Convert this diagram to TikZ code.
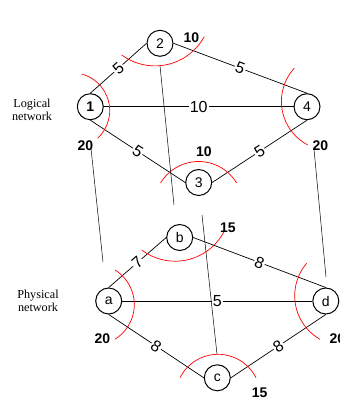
\documentclass[tikz,border=0pt]{standalone}
\usepackage{fontspec}
\setmainfont{Liberation Serif}
\setsansfont{Liberation Sans}
\usetikzlibrary{positioning}
\tikzset{
  % network node
  netnode/.style={
    circle, draw, line width=1pt,
    minimum size=26pt, inner sep=0pt,
    font=\sffamily\fontsize{14}{14}\selectfont
  },
  % link between two nodes
  link/.style={draw, line width=0.7pt},
  % link weight
  elabel/.style={fill=white, inner sep=1pt, sloped,
    font=\sffamily\fontsize{16}{16}\selectfont},
  % capacity value
  caplabel/.style={font=\sffamily\bfseries\fontsize{14}{14}\selectfont},
  % red cut arc
  cutarc/.style={red, line width=0.7pt},
  % logical to physical mapping
  mapline/.style={line width=0.5pt},
  % layer caption
  layer/.style={align=center, font=\fontsize{12.2}{13}\selectfont},
}

\begin{document}
\begin{tikzpicture}[x=1pt, y=-1pt]

  \clip (0,0) rectangle (340,408);

  %% Logical network
  \node[netnode] (n1) at (90.3,106.7) {\textbf{1}};
  \node[netnode] (n2) at (160,43.3)   {2};
  \node[netnode] (n3) at (198.7,182.5) {3};
  \node[netnode] (n4) at (307,106.7)  {4};

  \node[layer] (logcap) at (32,110) {Logical\\network};

  %% Physical network
  \node[netnode] (pa) at (108.7,301)   {a};
  \node[netnode] (pb) at (179.7,237.5) {b};
  \node[netnode] (pc) at (217.3,377.8) {c};
  \node[netnode] (pd) at (325.8,301)   {d};

  \node[layer] (phycap) at (38,300.5) {Physical\\network};

  %% Links
  \draw[link] (n1.north) -- node[elabel]{5}  (n2.west);
  \draw[link] (n2.east)  -- node[elabel]{5}  (n4.north);
  \draw[link] (n1.east)  -- node[elabel]{10} (n4.west);
  \draw[link] (n1.south) -- node[elabel]{5}  (n3.west);
  \draw[link] (n3.east)  -- node[elabel]{5}  (n4.south);

  \draw[link] (pa.north) -- node[elabel]{7} (pb.west);
  \draw[link] (pb.east)  -- node[elabel]{8} (pd.north);
  \draw[link] (pa.east)  -- node[elabel]{5} (pd.west);
  \draw[link] (pa.south) -- node[elabel]{8} (pc.west);
  \draw[link] (pc.east)  -- node[elabel]{8} (pd.south);

  %% Cut arcs
  \draw[cutarc] (71.8,110.6) ++(-74.9:37.9) arc[start angle=-74.9, end angle=46.9, radius=37.9];
  \draw[cutarc] (155.0,9.7) ++(126.3:56.2) arc[start angle=126.3, end angle=28.7, radius=56.2];
  \draw[cutarc] (330.6,101.4) ++(222.4:49.2) arc[start angle=222.4, end angle=117.7, radius=49.2];
  \draw[cutarc] (198.6,206.0) ++(211.1:44.5) arc[start angle=211.1, end angle=328.9, radius=44.5];
  \draw[cutarc] (93.6,304.6) ++(-58.3:40.7) arc[start angle=-58.3, end angle=58.3, radius=40.7];
  \draw[cutarc] (175.1,205.9) ++(127.1:55.3) arc[start angle=127.1, end angle=27.8, radius=55.3];
  \draw[cutarc] (344.8,295.8) ++(220.5:50.1) arc[start angle=220.5, end angle=119.7, radius=50.1];
  \draw[cutarc] (218,396.9) ++(206.8:42.6) arc[start angle=206.8, end angle=333.2, radius=42.6];

  %% Capacities
  \node[caplabel] (cap2) at (191.3,37.2)  {10};
  \node[caplabel] (cap1) at (85.3,145.7)  {20};
  \node[caplabel] (cap3) at (204,151.3)   {10};
  \node[caplabel] (cap4) at (320.3,145.7) {20};
  \node[caplabel] (capb) at (228,227.5)   {15};
  \node[caplabel] (capa) at (102.5,338.7) {20};
  \node[caplabel] (capd) at (337.3,338.7) {20};
  \node[caplabel] (capc) at (259.7,392.5) {15};

  %% Mapping
  \coordinate (m1top) at (91,148.3);
  \coordinate (m1bot) at (103,262);
  \coordinate (m2top) at (160,65.7);
  \coordinate (m2bot) at (174,205);
  \coordinate (m3top) at (202,215);
  \coordinate (m3bot) at (217,354.3);
  \coordinate (m4top) at (314,149);
  \coordinate (m4bot) at (326,277);

  \draw[mapline] (m1top) -- (m1bot);
  \draw[mapline] (m2top) -- (m2bot);
  \draw[mapline] (m3top) -- (m3bot);
  \draw[mapline] (m4top) -- (m4bot);

\end{tikzpicture}
\end{document}
